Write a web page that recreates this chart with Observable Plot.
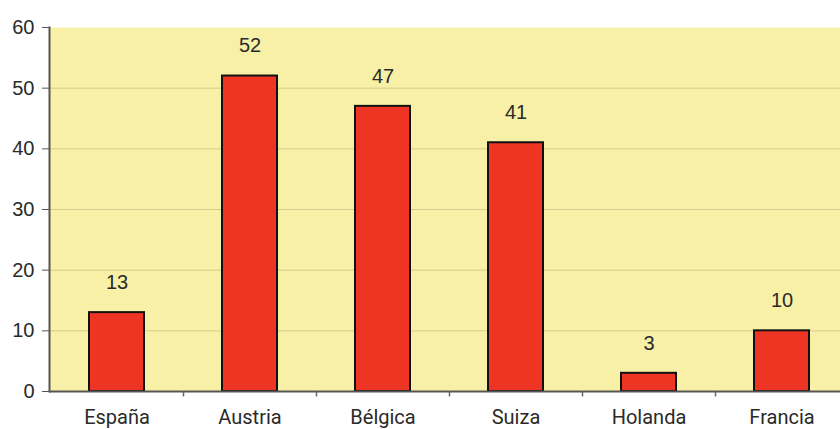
<!DOCTYPE html>
<html>
<head>
<meta charset="utf-8">
<script src="https://cdn.jsdelivr.net/npm/d3@7"></script>
<script src="https://cdn.jsdelivr.net/npm/@observablehq/plot@0.6"></script>
<style>
  html, body { margin: 0; padding: 0; background: #ffffff; overflow: hidden; }
  #chart svg { display: block; max-width: none !important; height: 429px !important; }
</style>
</head>
<body>
<div id="chart"></div>
<script>
const countries = ["España", "Austria", "Bélgica", "Suiza", "Holanda", "Francia"];
const values = [13, 52, 47, 41, 3, 10];
const yTicks = [0, 10, 20, 30, 40, 50, 60];

const data = countries.map((c, i) => ({country: c, value: values[i]}));

const chart = Plot.plot({
  width: 850,
  height: 429,
  marginLeft: 49,
  marginRight: 2,
  marginTop: 27,
  marginBottom: 38,
  style: {fontFamily: "'Liberation Sans', Arial, sans-serif", fontSize: "18px", color: "#2a2a2a", background: "transparent", overflow: "visible"},
  x: {domain: countries, padding: 0, label: null},
  y: {domain: [0, 60], ticks: yTicks, label: null},
  marks: [
    Plot.frame({fill: "#f7f0a6", stroke: null}),
    Plot.gridY(yTicks.filter(d => d > 0 && d < 60), {stroke: "#d6cc90", strokeOpacity: 1, strokeWidth: 1}),
    Plot.barY(data, {x: "country", y: "value", fill: "#ee3524", stroke: "#111", strokeWidth: 2, insetLeft: 39, insetRight: 39}),
    Plot.text(data, {x: "country", y: "value", text: d => String(d.value), dy: -30, fontSize: 20, fill: "#2a2a2a"}),
    Plot.axisY({ticks: yTicks, tickSize: 7, tickPadding: 8, fontSize: 20, stroke: "#555", label: null}),
    Plot.frame({anchor: "left", stroke: "#555", strokeWidth: 2}),
    Plot.axisX({tickSize: 0, tickPadding: 18, fontSize: 20, fontFamily: "Roboto, sans-serif", label: null}),
    Plot.ruleY([0], {stroke: "#555", strokeWidth: 2}),
    Plot.ruleX(countries.slice(1), {x: d => d, y1: 0, y2: -0.9, dx: -66.5, stroke: "#666", strokeWidth: 1.5})
  ]
});
document.getElementById("chart").appendChild(chart);
</script>
</body>
</html>
